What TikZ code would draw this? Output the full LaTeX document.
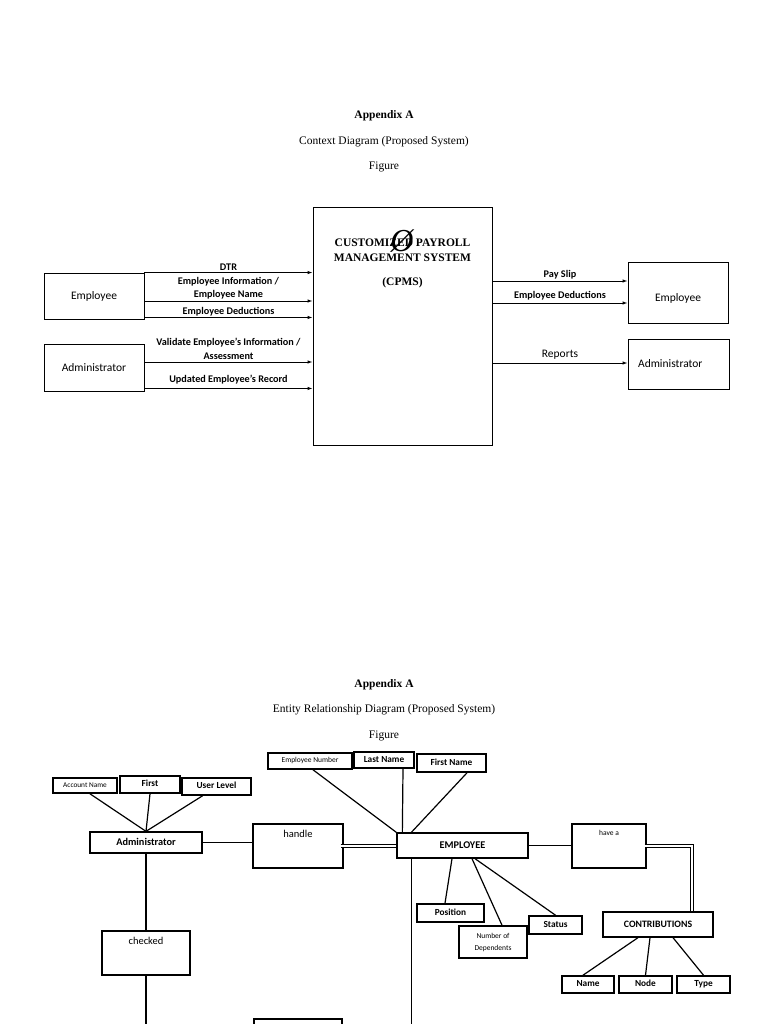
\documentclass[tikz,border=0pt]{standalone}
\usepackage{fontspec}
\setmainfont{Carlito}
\newfontfamily\serifface{Liberation Serif}
\usetikzlibrary{arrows.meta,positioning}

\tikzset{
  entity/.style={draw,line width=0.9pt,inner sep=0pt},
  erbox/.style={draw,line width=1.3pt,inner sep=0pt,text height=7pt,text depth=2pt,font=\fontsize{10.3}{11}\selectfont\bfseries},
  attrbox/.style={draw,line width=1.6pt,inner sep=0pt,text height=6.5pt,text depth=2pt,font=\fontsize{9.3}{10}\selectfont\bfseries},
  relbox/.style={draw,line width=1.3pt,inner sep=0pt},
  flow/.style={line width=0.9pt,-{Latex[length=5pt,width=3.5pt]}},
  flowtag/.style={above,inner sep=1pt,align=center,font=\fontsize{10.2}{13.5}\selectfont\bfseries},
  heading/.style={font=\serifface\fontsize{11.5}{13}\selectfont},
  link/.style={line width=1.2pt},
  twin/.style={double,double distance=2pt,line width=0.7pt}
}

\begin{document}
\begin{tikzpicture}[x=1pt,y=-1pt]
  \useasboundingbox (0,0) rectangle (768,1024);
  \clip (0,0) rectangle (768,1024);
  \node[heading,font=\serifface\bfseries\fontsize{11.5}{13}\selectfont] (ctxappendix) at (384,116) {Appendix A};
  \node[heading] (ctxtitle) at (384,142) {Context Diagram (Proposed System)};
  \node[heading] (ctxfigure) at (384,167) {Figure};

  \node[entity,minimum width=179pt,minimum height=238pt] (cpms) at (402.5,326) {};
  \node[align=center,font=\serifface\bfseries\fontsize{11.5}{14.5}\selectfont] (cpmsname) at (402.5,250) {CUSTOMIZED PAYROLL\\MANAGEMENT SYSTEM};
  \node[font=\serifface\bfseries\fontsize{11.5}{13}\selectfont] (cpmsabbr) at (402.5,283) {(CPMS)};
  \node[font=\serifface\itshape\fontsize{32}{32}\selectfont] (cpmsglyph) at (402,241) {Ø};

  \node[entity,minimum width=100pt,minimum height=46pt,font=\fontsize{11.5}{13}\selectfont] (empin) at (94,296) {Employee};
  \node[entity,minimum width=100pt,minimum height=47pt,font=\fontsize{11.5}{13}\selectfont] (adminin) at (94,367.5) {Administrator};
  \node[entity,minimum width=100pt,minimum height=61pt] (empout) at (678,292.5) {};
  \node[font=\fontsize{11.5}{13}\selectfont] (empoutname) at ([yshift=-6pt]empout.center) {Employee};
  \node[entity,minimum width=101pt,minimum height=50pt] (adminout) at (678.5,364) {};
  \node[anchor=west,font=\fontsize{11.5}{13}\selectfont] (adminoutname) at ([xshift=7pt]adminout.west) {Administrator};

  \coordinate (dtr) at (empin.north east);
  \coordinate (empinfo) at ([yshift=-5pt]empin.east);
  \coordinate (empded) at ([yshift=2pt]empin.south east);
  \coordinate (validate) at ([yshift=5.5pt]adminin.east);
  \coordinate (updated) at ([yshift=3pt]adminin.south east);
  \coordinate (payslip) at ([yshift=11.5pt]empout.west);
  \coordinate (dedout) at ([yshift=-10.5pt]empout.west);
  \coordinate (reports) at ([yshift=1pt]adminout.west);

  \draw[flow] (dtr) -- (dtr -| cpms.west) node[flowtag,midway,yshift=1pt] {DTR};
  \draw[flow] (empinfo) -- (empinfo -| cpms.west) node[flowtag,midway] {Employee Information /\\Employee Name};
  \draw[flow] (empded) -- (empded -| cpms.west) node[flowtag,midway] {Employee Deductions};
  \draw[flow] (validate) -- (validate -| cpms.west) node[flowtag,midway,yshift=1pt] {Validate Employee's Information /\\Assessment};
  \draw[flow] (updated) -- (updated -| cpms.west) node[flowtag,midway,yshift=3pt] {Updated Employee's Record};
  \draw[flow] (payslip -| cpms.east) -- (payslip) node[flowtag,midway] {Pay Slip};
  \draw[flow] (dedout -| cpms.east) -- (dedout) node[flowtag,midway,yshift=1pt] {Employee Deductions};
  \draw[flow] (reports -| cpms.east) -- (reports) node[flowtag,midway,yshift=2pt,font=\fontsize{11.5}{13}\selectfont] {Reports};

  \node[heading,font=\serifface\bfseries\fontsize{11.5}{13}\selectfont] (erappendix) at (384,685) {Appendix A};
  \node[heading] (ertitle) at (384,710) {Entity Relationship Diagram (Proposed System)};
  \node[heading] (erfigure) at (384,736) {Figure};

  \node[attrbox,minimum width=64pt,minimum height=15pt,text height=5pt,text depth=1.5pt,font=\fontsize{7.3}{8}\selectfont] (accname) at (85,785.5) {Account Name};
  \node[attrbox,minimum width=60pt,minimum height=17pt] (first) at (150,784.5) {First};
  \node[attrbox,minimum width=69pt,minimum height=17pt] (ulevel) at (216.5,786.5) {User Level};
  \node[erbox,minimum width=112pt,minimum height=21pt] (admin) at (146,842.5) {Administrator};
  \node[relbox,minimum width=90pt,minimum height=44pt] (handle) at (298,846) {};
  \node[below=7pt of handle.north,inner sep=0pt,font=\fontsize{10.5}{12}\selectfont] (handletext) {handle};
  \node[relbox,minimum width=88pt,minimum height=44pt] (checked) at (146,953) {};
  \node[below=7pt of checked.north,inner sep=0pt,font=\fontsize{10.5}{12}\selectfont] (checkedtext) {checked};
  \node[relbox,minimum width=88pt,minimum height=44pt] (lowerrel) at (298,1041) {};

  \node[attrbox,minimum width=84pt,minimum height=16pt,text height=5pt,text depth=1.5pt,font=\fontsize{7.5}{8}\selectfont] (empno) at (310,761) {Employee Number};
  \node[attrbox,minimum width=60pt,minimum height=16pt] (lname) at (384,760) {Last Name};
  \node[attrbox,minimum width=69pt,minimum height=18pt] (fname) at (451.5,763) {First Name};
  \node[erbox,minimum width=131pt,minimum height=25pt] (employee) at (462.5,845.5) {EMPLOYEE};
  \node[attrbox,minimum width=67pt,minimum height=18pt] (position) at (450.5,913) {Position};
  \node[attrbox,minimum width=68pt,minimum height=32pt,align=center,text height=,text depth=,font=\fontsize{7.5}{12}\selectfont] (numdep) at (493,942) {Number of\\Dependents};
  \node[attrbox,minimum width=53pt,minimum height=18pt] (status) at (555.5,925) {Status};

  \node[relbox,minimum width=74pt,minimum height=44pt] (havea) at (609,846) {};
  \node[below=7pt of havea.north,inner sep=0pt,font=\fontsize{7.5}{8}\selectfont] (haveatext) {have a};
  \node[erbox,minimum width=110pt,minimum height=25pt,font=\fontsize{9.8}{11}\selectfont\bfseries] (contrib) at (658,924.5) {CONTRIBUTIONS};
  \node[attrbox,minimum width=52pt,minimum height=17pt] (cname) at (588,984.5) {Name};
  \node[attrbox,minimum width=53pt,minimum height=17pt] (cnode) at (645.5,984.5) {Node};
  \node[attrbox,minimum width=53pt,minimum height=17pt] (ctype) at (703.5,984.5) {Type};

  \draw[link] ([xshift=5pt]accname.south) -- (admin.north);
  \draw[link] (first.south) -- (admin.north);
  \draw[link] ([xshift=-14pt]ulevel.south) -- (admin.north);
  \draw[link] ([xshift=3pt]empno.south) -- (employee.north west);
  \draw[link] ([xshift=19pt]lname.south) -- ([xshift=6pt]employee.north west);
  \draw[link] ([xshift=15.5pt]fname.south) -- ([xshift=15pt]employee.north west);
  \draw[link] (admin.east) -- (admin.east -| handle.west);
  \draw[twin] ([xshift=-3pt]handle.east) -- (handle.east -| employee.west);
  \draw[link] (employee.east) -- (employee.east -| havea.west);
  \draw[twin] ([xshift=-2pt]havea.east) -| ([xshift=34pt]contrib.north);
  \draw[link] ([xshift=-10.5pt]employee.south) -- ([xshift=-5.5pt]position.north);
  \draw[link] ([xshift=9.5pt]employee.south) -- ([xshift=9pt]numdep.north);
  \draw[link] ([xshift=12.5pt]employee.south) -- (status.north);
  \draw[link] ([xshift=-20pt]contrib.south) -- ([xshift=-5pt]cname.north);
  \draw[link] ([xshift=-8pt]contrib.south) -- (cnode.north);
  \draw[link] ([xshift=15pt]contrib.south) -- (ctype.north);

  \coordinate (chkfoot) at (145,1024);
  \coordinate (empfoot) at (412,1024);
  \coordinate (emptrunk) at ([xshift=15pt]employee.south west);
  \draw[link] (admin.south) -- (checked.north);
  \draw[link] (checked.south) -- (checked.south |- chkfoot);
  \draw[link] (emptrunk) -- (emptrunk |- empfoot);
\end{tikzpicture}
\end{document}
